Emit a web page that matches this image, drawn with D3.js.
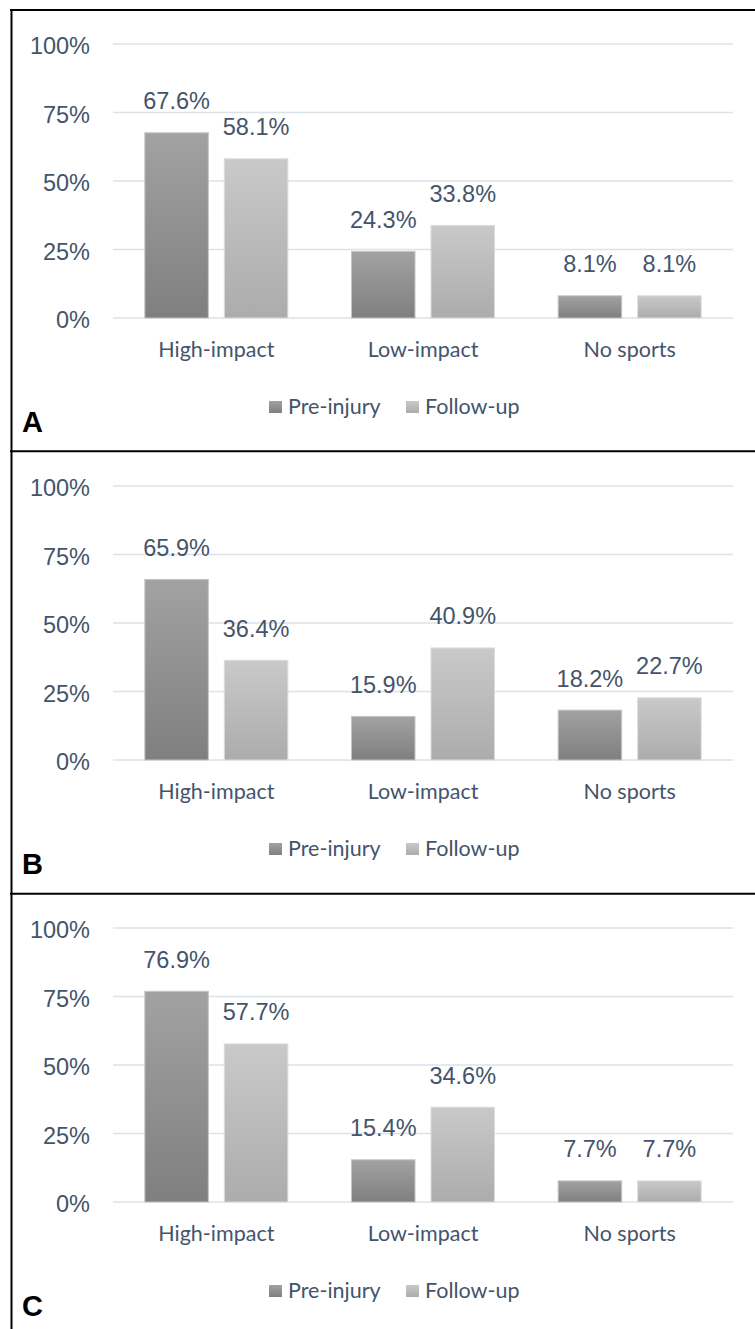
<!DOCTYPE html>
<html>
<head>
<meta charset="utf-8">
<script src="https://cdn.jsdelivr.net/npm/d3@7"></script>
<style>
  html, body { margin: 0; padding: 0; background: #fff; }
  svg { display: block; }
</style>
</head>
<body>
<svg id="chart" width="755" height="1329"></svg>
<script>
// ---- data ----
const categories = ["High-impact", "Low-impact", "No sports"];
const seriesNames = ["Pre-injury", "Follow-up"];
const panelLetters = ["A", "B", "C"];
const preA = [67.6, 24.3, 8.1];
const followA = [58.1, 33.8, 8.1];
const preB = [65.9, 15.9, 18.2];
const followB = [36.4, 40.9, 22.7];
const preC = [76.9, 15.4, 7.7];
const followC = [57.7, 34.6, 7.7];
const yTicks = [0, 25, 50, 75, 100];
const yTickLabels = ["0%", "25%", "50%", "75%", "100%"];

const panels = [
  { letter: panelLetters[0], values: [preA, followA] },
  { letter: panelLetters[1], values: [preB, followB] },
  { letter: panelLetters[2], values: [preC, followC] }
];

// ---- styles ----
const textColor = "#44546a";
const gridColor = "#dde2ea";
const numFont = "'Liberation Sans', Arial, sans-serif";
const catFont = "Lato, 'Open Sans', sans-serif";

const svg = d3.select("#chart");
const defs = svg.append("defs");
const grads = [
  { id: "gPre", top: "#a2a2a2", bottom: "#7f7f7f", stroke: "#c4c4c4" },
  { id: "gFol", top: "#c9c9c9", bottom: "#acacac", stroke: "#dcdcdc" }
];
grads.forEach(g => {
  const lg = defs.append("linearGradient").attr("id", g.id)
    .attr("x1", 0).attr("y1", 0).attr("x2", 0).attr("y2", 1);
  lg.append("stop").attr("offset", "0%").attr("stop-color", g.top);
  lg.append("stop").attr("offset", "100%").attr("stop-color", g.bottom);
});

const panelStep = 442;
const x = d3.scaleBand().domain(categories).range([113, 733]).paddingInner(0).paddingOuter(0);
const innerRangeW = 143;
const xi = d3.scaleBand().domain(seriesNames)
  .range([(x.bandwidth() - innerRangeW) / 2, (x.bandwidth() + innerRangeW) / 2])
  .paddingInner(0.201).paddingOuter(0);

panels.forEach((p, pi) => {
  const oy = pi * panelStep;
  const g = svg.append("g").attr("transform", `translate(0,${oy})`);
  const y = d3.scaleLinear().domain([0, 100]).range([318, 44]);

  // gridlines
  g.append("g").selectAll("line").data(yTicks).join("line")
    .attr("x1", 113).attr("x2", 733)
    .attr("y1", d => y(d)).attr("y2", d => y(d))
    .attr("stroke", gridColor).attr("stroke-width", 1.5);

  // y tick labels
  g.append("g").selectAll("text").data(yTicks).join("text")
    .attr("x", 90).attr("y", d => y(d)).attr("dy", "0.43em")
    .attr("text-anchor", "end")
    .attr("font-family", numFont).attr("font-size", 23.5)
    .attr("fill", textColor)
    .text((d, i) => yTickLabels[i]);

  // bars
  seriesNames.forEach((s, si) => {
    const vals = p.values[si];
    const sg = g.append("g");
    sg.selectAll("rect").data(vals).join("rect")
      .attr("x", (d, i) => x(categories[i]) + xi(s))
      .attr("width", xi.bandwidth())
      .attr("y", d => y(d))
      .attr("height", d => y(0) - y(d))
      .attr("fill", `url(#${grads[si].id})`)
      .attr("stroke", grads[si].stroke).attr("stroke-width", 1);
    sg.selectAll("text").data(vals).join("text")
      .attr("x", (d, i) => x(categories[i]) + xi(s) + xi.bandwidth() / 2)
      .attr("y", d => y(d) - 23.5)
      .attr("text-anchor", "middle")
      .attr("font-family", numFont).attr("font-size", 23.5)
      .attr("fill", textColor)
      .text(d => d.toFixed(1) + "%");
  });

  // category labels
  g.append("g").selectAll("text").data(categories).join("text")
    .attr("x", d => x(d) + x.bandwidth() / 2)
    .attr("y", 357)
    .attr("text-anchor", "middle")
    .attr("font-family", catFont).attr("font-size", 21.5)
    .attr("fill", textColor)
    .text(d => d);

  // legend
  const legendX = [269, 406];
  const lg = g.append("g");
  seriesNames.forEach((s, si) => {
    lg.append("rect")
      .attr("x", legendX[si]).attr("y", 401).attr("width", 13).attr("height", 12)
      .attr("fill", `url(#${grads[si].id})`);
    lg.append("text")
      .attr("x", legendX[si] + 19).attr("y", 414)
      .attr("font-family", catFont).attr("font-size", 21.5)
      .attr("fill", textColor)
      .text(s);
  });

  // panel letter
  g.append("text")
    .attr("x", 22).attr("y", 432)
    .attr("font-family", numFont).attr("font-weight", "bold").attr("font-size", 29)
    .attr("fill", "#000")
    .text(p.letter);
});

// borders
const borderY = [10, 451.3, 893.7];
svg.append("g").selectAll("line").data(borderY).join("line")
  .attr("x1", 10).attr("x2", 755)
  .attr("y1", d => d).attr("y2", d => d)
  .attr("stroke", "#000").attr("stroke-width", 2);
svg.append("line")
  .attr("x1", 11.5).attr("x2", 11.5).attr("y1", 9).attr("y2", 1329)
  .attr("stroke", "#000").attr("stroke-width", 2);
</script>
</body>
</html>
